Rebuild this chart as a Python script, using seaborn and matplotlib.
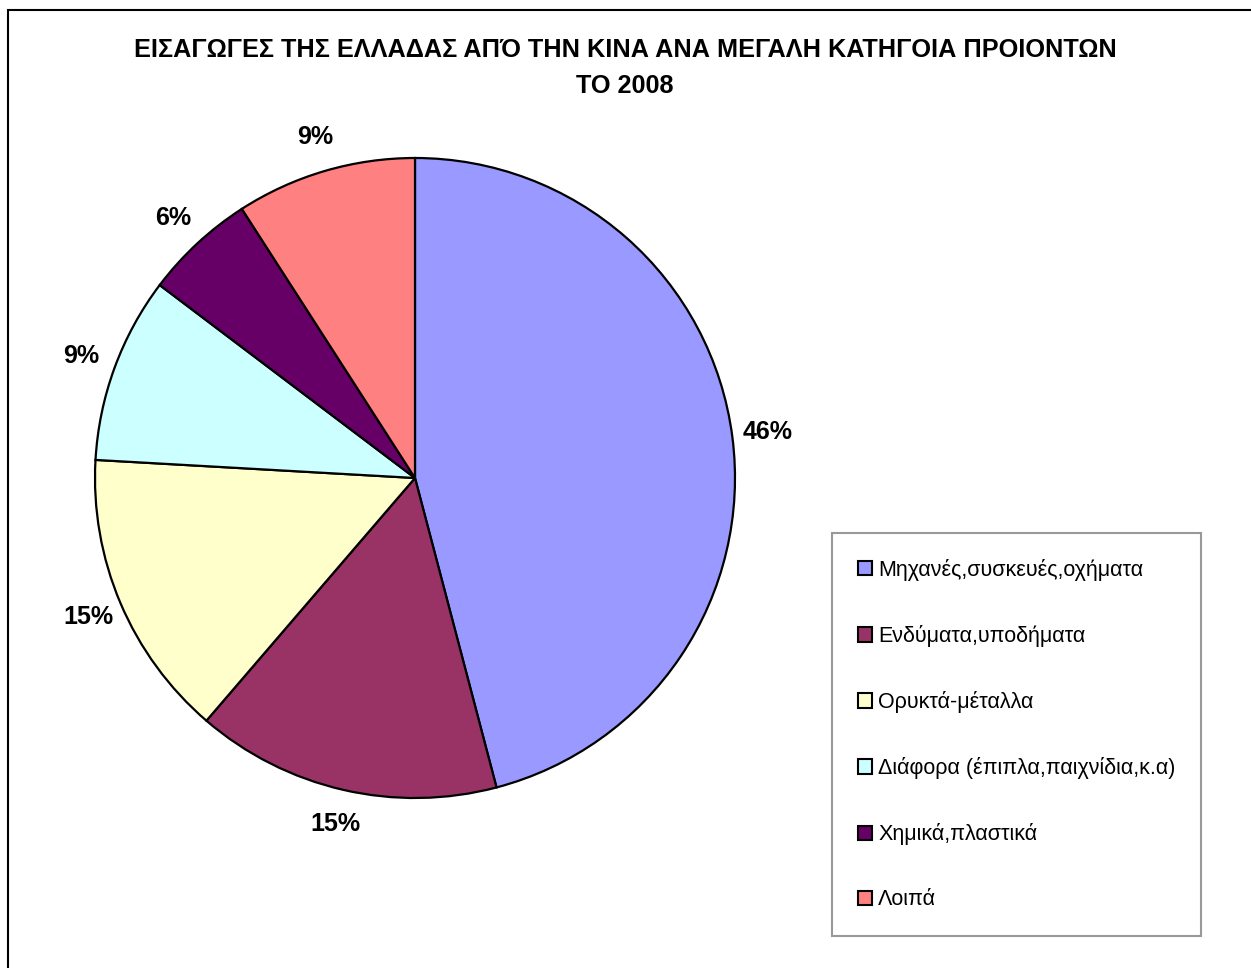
import matplotlib
matplotlib.use("Agg")
import matplotlib.pyplot as plt
import seaborn as sns
from matplotlib.patches import Rectangle

# data (share of imports, %)
categories = ["Μηχανές,συσκευές,οχήματα", "Ενδύματα,υποδήματα", "Ορυκτά-μέταλλα",
              "Διάφορα (έπιπλα,παιχνίδια,κ.α)", "Χημικά,πλαστικά", "Λοιπά"]
shares = [45.9, 15.4, 14.6, 9.4, 5.6, 9.1]
colors = ["#9999FF", "#993366", "#FFFFCC", "#CCFFFF", "#660066", "#FF8080"]
title = "ΕΙΣΑΓΩΓΕΣ ΤΗΣ ΕΛΛΑΔΑΣ ΑΠΌ ΤΗΝ ΚΙΝΑ ΑΝΑ ΜΕΓΑΛΗ ΚΑΤΗΓΟΙΑ ΠΡΟΙΟΝΤΩΝ\nΤΟ 2008"

sns.set_theme(style="white")
plt.rcParams['font.family'] = ['Liberation Sans', 'DejaVu Sans']
plt.rcParams['text.color'] = 'black'

W, H = 1251, 968
fig = plt.figure(figsize=(W / 100, H / 100), dpi=100)

# pie centre (415, 478) px, radius 320 px
cx, cy, r = 415, 478, 320
ax = fig.add_axes([(cx - r) / W, (H - cy - r) / H, 2 * r / W, 2 * r / H])
wedges, _, autotexts = ax.pie(shares, colors=colors, startangle=90, counterclock=False,
                              autopct=lambda p: f"{p:.0f}%", pctdistance=1.11,
                              wedgeprops=dict(edgecolor="black", linewidth=1.6))
for t in autotexts:
    t.set_fontsize(18)
    t.set_fontweight("bold")
    t.set_color("black")
ax.set_xlim(-1, 1)
ax.set_ylim(-1, 1)
ax.set_aspect("equal")
ax.axis("off")

fig.text(625 / W, 1 - 68 / H, title, ha="center", va="center", fontsize=18.2,
         fontweight="bold", color="black", linespacing=1.68)

leg = fig.legend(wedges, categories, loc="upper left",
                 bbox_to_anchor=(832 / W, 1 - 533 / H), borderaxespad=0,
                 fontsize=15.5, frameon=True, fancybox=False, shadow=False,
                 handlelength=0.65, handleheight=0.65, handletextpad=0.3,
                 labelspacing=2.05, borderpad=1.2)
leg.get_frame().set_edgecolor("#808080")
leg.get_frame().set_linewidth(1.5)
for t in leg.get_texts():
    t.set_color("black")
for h in leg.legend_handles:
    h.set_linewidth(1.5)

# outer chart border (runs off the right and bottom edges)
fig.patches.append(Rectangle((8 / W, -0.1), 1.2, 1 - 10 / H + 0.1, transform=fig.transFigure,
                             fill=False, edgecolor="black", linewidth=1.5))

fig.savefig("out.png", dpi=100)
